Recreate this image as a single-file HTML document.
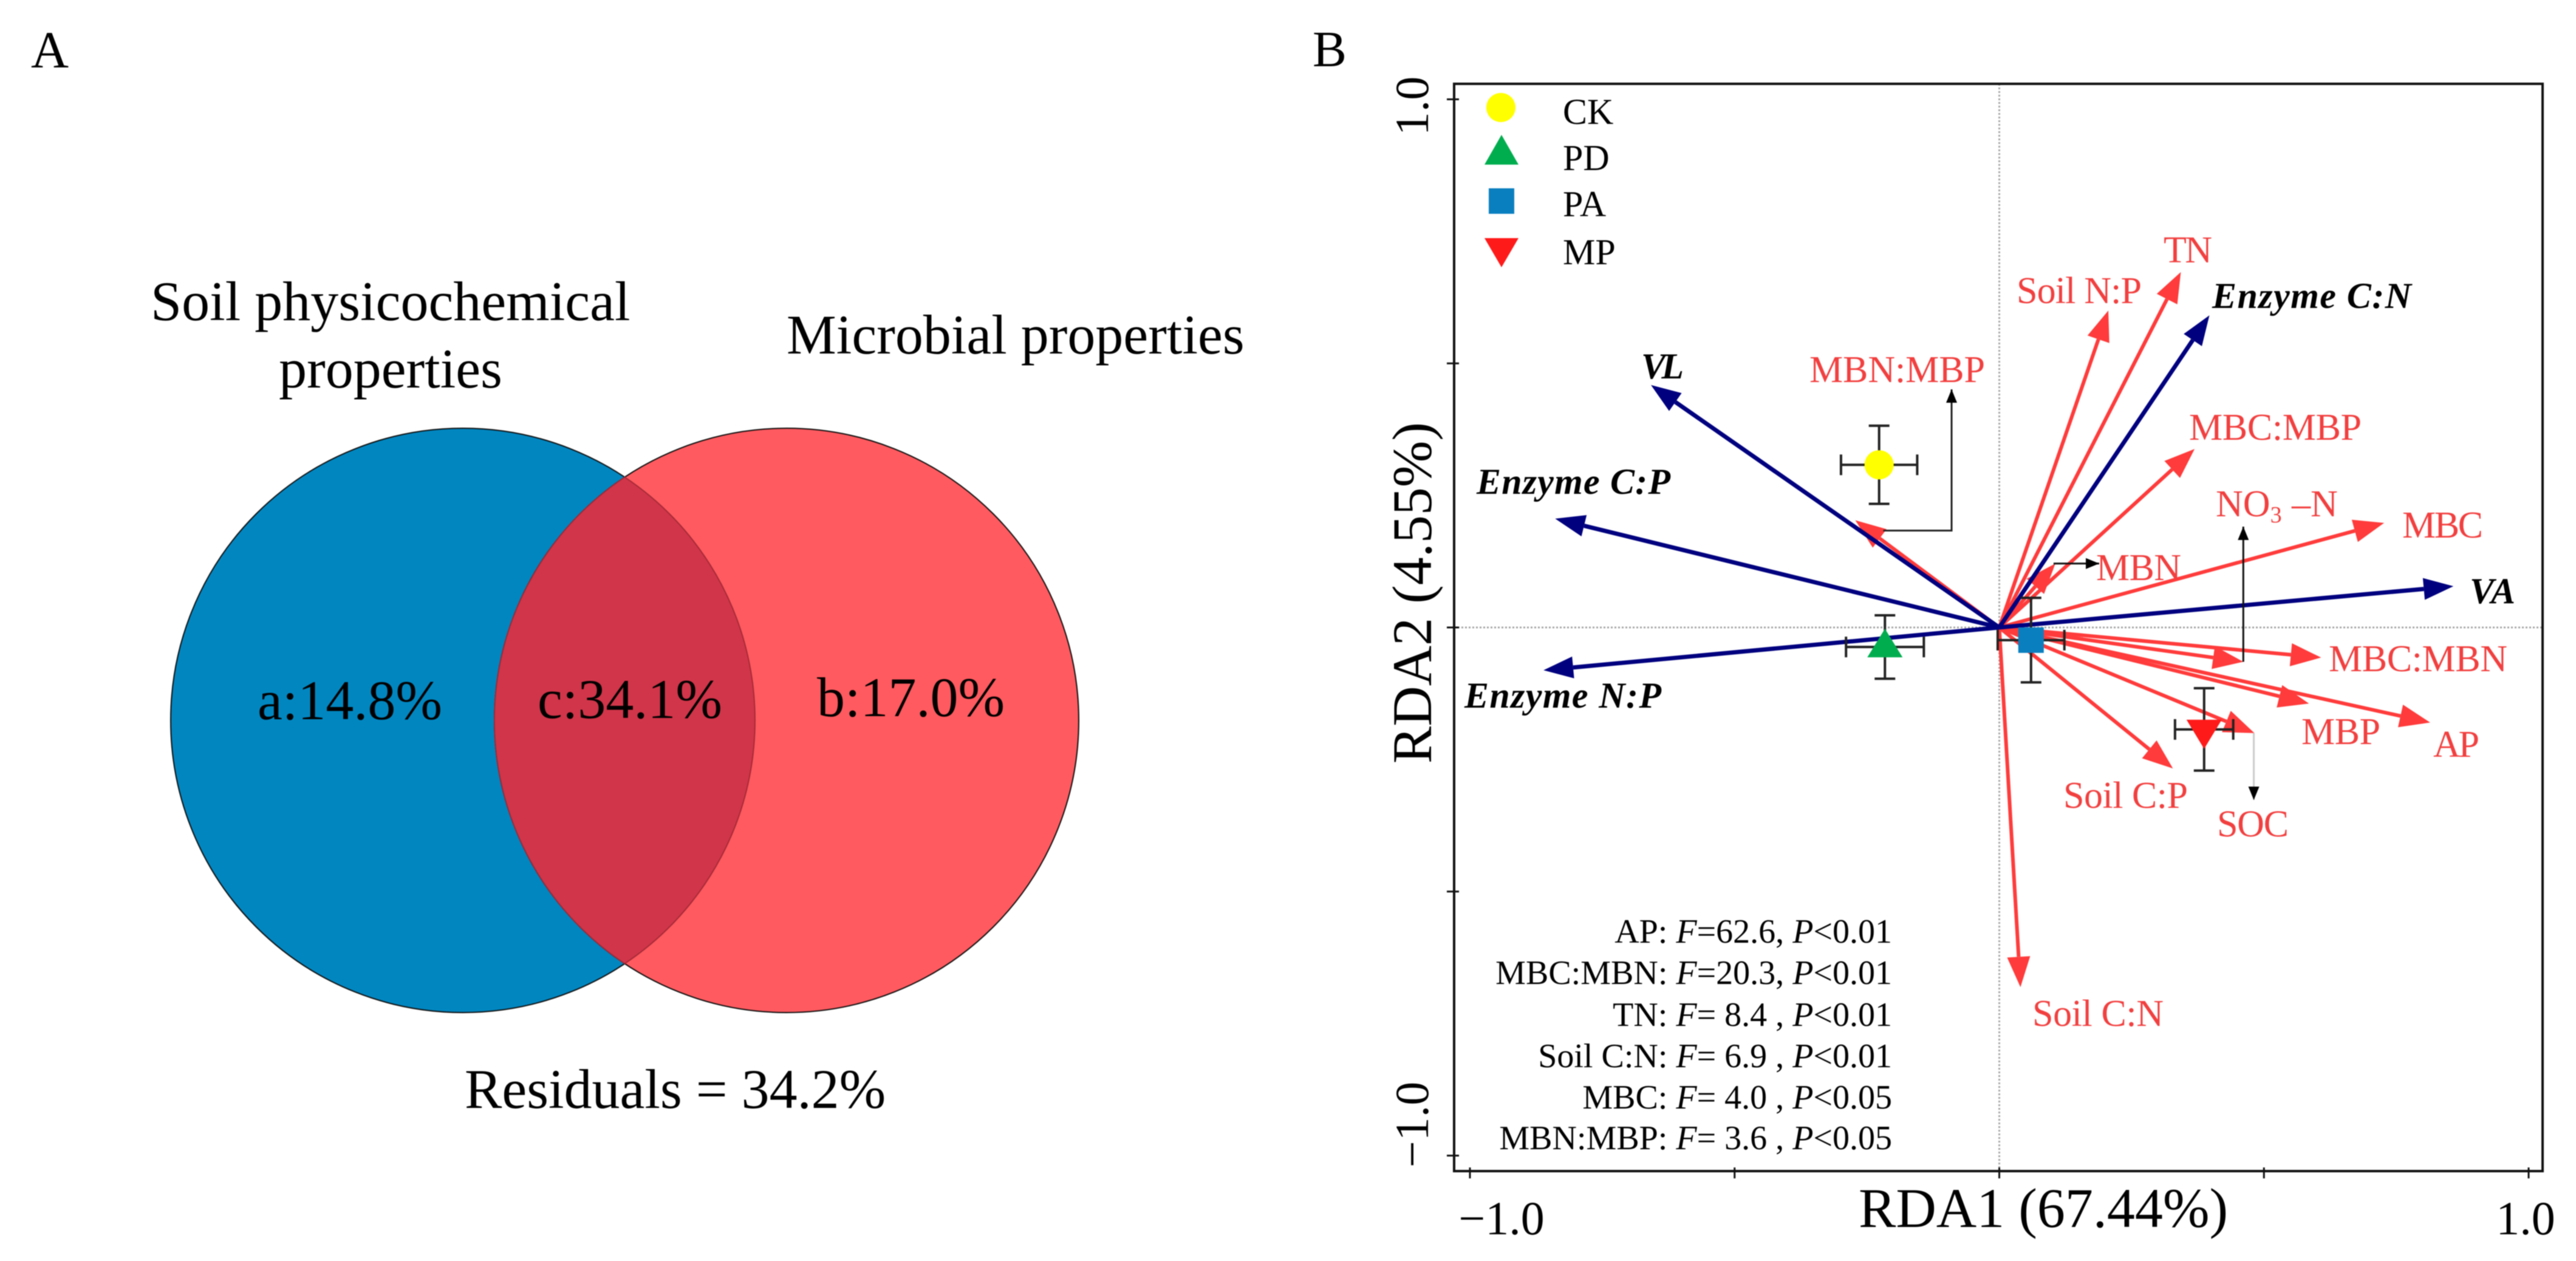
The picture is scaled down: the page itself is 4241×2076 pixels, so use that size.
<!DOCTYPE html>
<html lang="en">
<head>
<meta charset="utf-8">
<title>Venn diagram and RDA ordination</title>
<style>
html,body{margin:0;padding:0;background:#fff;width:4241px;height:2076px;overflow:hidden}
svg{display:block;filter:blur(.8px)}
text{font-family:"Liberation Serif","Times New Roman",serif}
.red{fill:#F23F3F;font-size:62px}
.enz{fill:#000;font-size:60px;font-style:italic;font-weight:bold}
.stat{font-size:56px;text-anchor:end;fill:#000}
.big{font-size:92px;fill:#000}
.leg{font-size:60px;fill:#000}
.tick{font-size:78px;fill:#000}
</style>
</head>
<body>
<svg id="fig" xmlns="http://www.w3.org/2000/svg" width="4241" height="2076" viewBox="0 0 4241 2076">
  <rect width="4241" height="2076" fill="#fff"/>

  <!-- Panel A -->
  <g>
    <text x="51" y="111" font-size="86">A</text>
    <text class="big" x="248" y="527">Soil physicochemical</text>
    <text class="big" x="643" y="638" text-anchor="middle">properties</text>
    <text class="big" x="1295" y="582">Microbial properties</text>
    <circle cx="762" cy="1186" r="481" fill="#0186C0" stroke="#111" stroke-width="2"/>
    <circle cx="1295" cy="1186" r="481" fill="#FF5A5F" stroke="#111" stroke-width="2"/>
    <path d="M1028.5 785.6A481 481 0 0 1 1028.5 1586.4A481 481 0 0 1 1028.5 785.6Z" fill="#D13549" stroke="#A52A38" stroke-width="2"/>
    <text class="big" x="424" y="1184">a:14.8%</text>
    <text class="big" x="885" y="1182">c:34.1%</text>
    <text class="big" x="1345" y="1179">b:17.0%</text>
    <text class="big" x="765" y="1824">Residuals = 34.2%</text>
  </g>

  <!-- Panel B static -->
  <g>
    <text x="2161" y="109" font-size="84">B</text>
    <g id="grid"></g>
    <rect x="2394" y="138" width="1792" height="1790" fill="none" stroke="#111" stroke-width="4"/>
    <g id="axes"></g>
    <text class="big" x="3060" y="2020">RDA1 (67.44%)</text>
    <text class="big" transform="translate(2356,976) rotate(-90)" text-anchor="middle">RDA2 (4.55%)</text>

    <g id="soil-arrows"></g>
    <g id="enzyme-arrows"></g>
    <g id="leaders"></g>
    <g id="groups"></g>

    <g>
      <circle cx="2471" cy="177" r="24" fill="#FFFF00"/>
      <polygon points="2472,222 2500,271 2444,271" fill="#00AD4E"/>
      <rect x="2451" y="310" width="42" height="42" fill="#0A7FC0"/>
      <polygon points="2444,392 2500,392 2472,440" fill="#FF1A1A"/>
      <text class="leg" x="2573" y="204">CK</text>
      <text class="leg" x="2573" y="280">PD</text>
      <text class="leg" x="2573" y="356">PA</text>
      <text class="leg" x="2573" y="435">MP</text>
    </g>

    <g>
      <text class="red" x="3562" y="432" textLength="80">TN</text>
      <text class="red" x="3320" y="499" textLength="206">Soil N:P</text>
      <text class="red" x="2979" y="629" textLength="289">MBN:MBP</text>
      <text class="red" x="3604" y="724" textLength="284">MBC:MBP</text>
      <text class="red" y="850"><tspan x="3648">NO</tspan><tspan font-size="38" dy="10">3</tspan><tspan x="3773" dy="-10">–N</tspan></text>
      <text class="red" x="3955" y="885" textLength="133">MBC</text>
      <text class="red" x="3451" y="955" textLength="140">MBN</text>
      <text class="red" x="3834" y="1105" textLength="294">MBC:MBN</text>
      <text class="red" x="3789" y="1225" textLength="130">MBP</text>
      <text class="red" x="4006" y="1246" textLength="76">AP</text>
      <text class="red" x="3397" y="1330" textLength="205">Soil C:P</text>
      <text class="red" x="3650" y="1377" textLength="118">SOC</text>
      <text class="red" x="3346" y="1689" textLength="216">Soil C:N</text>
    </g>
    <g>
      <text class="enz" x="3642" y="507" textLength="328">Enzyme C:N</text>
      <text class="enz" x="2702" y="623" textLength="70">VL</text>
      <text class="enz" x="2431" y="813" textLength="319">Enzyme C:P</text>
      <text class="enz" x="4066" y="993" textLength="75">VA</text>
      <text class="enz" x="2411" y="1165" textLength="324">Enzyme N:P</text>
    </g>
    <g>
      <text class="stat" x="3115" y="1552">AP: <tspan font-style="italic">F</tspan>=62.6, <tspan font-style="italic">P</tspan>&lt;0.01</text>
      <text class="stat" x="3115" y="1620">MBC:MBN: <tspan font-style="italic">F</tspan>=20.3, <tspan font-style="italic">P</tspan>&lt;0.01</text>
      <text class="stat" x="3115" y="1689">TN: <tspan font-style="italic">F</tspan>= 8.4 , <tspan font-style="italic">P</tspan>&lt;0.01</text>
      <text class="stat" x="3115" y="1757">Soil C:N: <tspan font-style="italic">F</tspan>= 6.9 , <tspan font-style="italic">P</tspan>&lt;0.01</text>
      <text class="stat" x="3115" y="1825">MBC: <tspan font-style="italic">F</tspan>= 4.0 , <tspan font-style="italic">P</tspan>&lt;0.05</text>
      <text class="stat" x="3115" y="1892">MBN:MBP: <tspan font-style="italic">F</tspan>= 3.6 , <tspan font-style="italic">P</tspan>&lt;0.05</text>
    </g>
  </g>
</svg>
<script>
const xTickValues = [-1, -0.5, 0, 0.5, 1];
const yTickValues = [-1, -0.5, 0, 0.5, 1];
const xTickText = ['\u22121.0', '', '', '', '1.0'];
const yTickText = ['\u22121.0', '', '', '', '1.0'];

const soilVars = ['TN', 'Soil N:P', 'MBN:MBP', 'MBC:MBP', 'MBN', 'MBC', 'MBC:MBN', 'NO3-N', 'AP', 'MBP', 'SOC', 'Soil C:P', 'Soil C:N'];
const soilRda1 = [0.343, 0.206, -0.272, 0.369, 0.106, 0.727, 0.608, 0.461, 0.814, 0.585, 0.482, 0.328, 0.040];
const soilRda2 = [0.673, 0.600, 0.203, 0.338, 0.121, 0.198, -0.057, -0.065, -0.180, -0.144, -0.200, -0.267, -0.681];

const enzymeVars = ['Enzyme C:N', 'VL', 'Enzyme C:P', 'VA', 'Enzyme N:P'];
const enzymeRda1 = [0.397, -0.658, -0.839, 0.858, -0.861];
const enzymeRda2 = [0.591, 0.459, 0.206, 0.078, -0.081];

const groupNames = ['CK', 'PD', 'PA', 'MP'];
const groupRda1 = [-0.227, -0.216, 0.060, 0.387];
const groupRda2 = [0.308, -0.037, -0.024, -0.193];
const groupErr1 = [0.072, 0.0735, 0.063, 0.055];
const groupErr2 = [0.074, 0.060, 0.080, 0.078];

const NS = 'http://www.w3.org/2000/svg';
const X0 = 3291.5, Y0 = 1033, UNITX = 871.5, UNITY = 869.5;
function sx(v) { return X0 + v * UNITX; }
function sy(v) { return Y0 - v * UNITY; }
function slug(s) { return s.toLowerCase().replace(/[^a-z0-9]+/g, '-'); }
function make(tag, parent, attrs) {
  const el = document.createElementNS(NS, tag);
  for (const k in attrs) el.setAttribute(k, attrs[k]);
  parent.appendChild(el);
  return el;
}

/* zero reference lines */
const grid = document.getElementById('grid');
const zeroV = make('line', grid, {x1: sx(0), x2: sx(0), y1: 138, y2: 1928, stroke: '#a8a8a8', 'stroke-width': 3, 'stroke-dasharray': '3 3'});


const zeroH = make('line', grid, {x1: 2394, x2: 4186, y1: sy(0), y2: sy(0), stroke: '#a8a8a8', 'stroke-width': 3, 'stroke-dasharray': '3 3'});



/* axes */
const axes = document.getElementById('axes');
xTickValues.forEach(function (v, i) {
  const t = make('line', axes, {x1: sx(v), x2: sx(v), y1: 1922, y2: 1940, stroke: '#111', 'stroke-width': 3});
  
  
  if (xTickText[i]) {
    const lbl = make('text', axes, {x: v < 0 ? sx(v) + 52 : sx(v) - 5, y: 2032, 'text-anchor': 'middle', class: 'tick'});
    lbl.textContent = xTickText[i];
    
    
  }
});
yTickValues.forEach(function (v, i) {
  const t = make('line', axes, {x1: 2382, x2: 2402, y1: sy(v), y2: sy(v), stroke: '#111', 'stroke-width': 3});
  
  
  if (yTickText[i]) {
    const c = v < 0 ? sy(v) - 51 : sy(v) + 11;
    const lbl = make('text', axes, {transform: 'translate(2351,' + c + ') rotate(-90)', 'text-anchor': 'middle', class: 'tick'});
    lbl.textContent = yTickText[i];
    
    
  }
});

/* arrows */
function drawArrow(parent, name, x, y, color, lw, len, hw) {
  const tx = sx(x), ty = sy(y);
  const dx = tx - X0, dy = ty - Y0, d = Math.hypot(dx, dy), ux = dx / d, uy = dy / d;
  const bx = tx - ux * len, by = ty - uy * len;
  const g = make('g', parent, {});
  
  
  make('line', g, {x1: X0, y1: Y0, x2: bx, y2: by, stroke: color, 'stroke-width': lw});
  make('polygon', g, {fill: color, points: [tx, ty, bx - uy * hw, by + ux * hw, bx + uy * hw, by - ux * hw].join(' ')});
}
const soilLayer = document.getElementById('soil-arrows');
soilVars.forEach(function (n, i) {
  drawArrow(soilLayer, 'arrow-' + slug(n), soilRda1[i], soilRda2[i], '#FF3B3B', 6, 50, 19);
});
const enzymeLayer = document.getElementById('enzyme-arrows');
enzymeVars.forEach(function (n, i) {
  drawArrow(enzymeLayer, 'arrow-' + slug(n), enzymeRda1[i], enzymeRda2[i], '#00007F', 7, 49, 18);
});

/* leader lines from arrow tips to their labels */
const leaderLayer = document.getElementById('leaders');
function drawLeader(name, pts, color) {
  const g = make('g', leaderLayer, {});
  
  
  const a = pts[pts.length - 2], b = pts[pts.length - 1];
  const d = Math.hypot(b[0] - a[0], b[1] - a[1]), ux = (b[0] - a[0]) / d, uy = (b[1] - a[1]) / d;
  const bx = b[0] - ux * 22, by = b[1] - uy * 22;
  make('polyline', g, {fill: 'none', stroke: color, 'stroke-width': 3, points: pts.map(function (p) { return p.join(','); }).join(' ')});
  make('polygon', g, {fill: '#000', points: [b[0], b[1], bx - uy * 9, by + ux * 9, bx + uy * 9, by - ux * 9].join(' ')});
}
function tip(name) {
  const i = soilVars.indexOf(name);
  return [sx(soilRda1[i]), sy(soilRda2[i])];
}
const tipMbnMbp = tip('MBN:MBP');
drawLeader('leader-mbn-mbp', [[tipMbnMbp[0] + 46, tipMbnMbp[1] + 17], [3213, tipMbnMbp[1] + 17], [3213, 641]], '#222');
const tipMbn = tip('MBN');
drawLeader('leader-mbn', [[tipMbn[0] - 3, tipMbn[1]], [3456, tipMbn[1]]], '#111');
const tipNo3 = tip('NO3-N');
drawLeader('leader-no3-n', [[tipNo3[0], tipNo3[1]], [tipNo3[0], 867]], '#111');
const tipSoc = tip('SOC');
drawLeader('leader-soc', [[tipSoc[0] - 1, tipSoc[1]], [tipSoc[0] - 1, 1317]], '#ccc');

/* group centroids with error bars */
const groupLayer = document.getElementById('groups');
groupNames.forEach(function (n, i) {
  const cx = sx(groupRda1[i]), cy = sy(groupRda2[i]);
  const ex = groupErr1[i] * UNITX, ey = groupErr2[i] * UNITY, cap = 17;
  const g = make('g', groupLayer, {});
  
  
  const eb = make('path', g, {
    fill: 'none', stroke: '#222', 'stroke-width': 4,
    d: 'M' + (cx - ex) + ' ' + cy + 'H' + (cx + ex) +
       'M' + (cx - ex) + ' ' + (cy - cap) + 'V' + (cy + cap) +
       'M' + (cx + ex) + ' ' + (cy - cap) + 'V' + (cy + cap) +
       'M' + cx + ' ' + (cy - ey) + 'V' + (cy + ey) +
       'M' + (cx - cap) + ' ' + (cy - ey) + 'H' + (cx + cap) +
       'M' + (cx - cap) + ' ' + (cy + ey) + 'H' + (cx + cap)
  });
  
  
  if (n === 'CK') {
    make('circle', g, {cx: cx, cy: cy, r: 24, fill: '#FFFF00'});
  } else if (n === 'PD') {
    make('polygon', g, {fill: '#00AD4E', points: [cx, cy - 30, cx + 29, cy + 17, cx - 29, cy + 17].join(' ')});
  } else if (n === 'PA') {
    make('rect', g, {x: cx - 21, y: cy - 21, width: 42, height: 42, fill: '#0A7FC0'});
  } else {
    make('polygon', g, {fill: '#FF1A1A', points: [cx - 29, cy - 16, cx + 29, cy - 16, cx, cy + 32].join(' ')});
  }
});
</script>
</body>
</html>
